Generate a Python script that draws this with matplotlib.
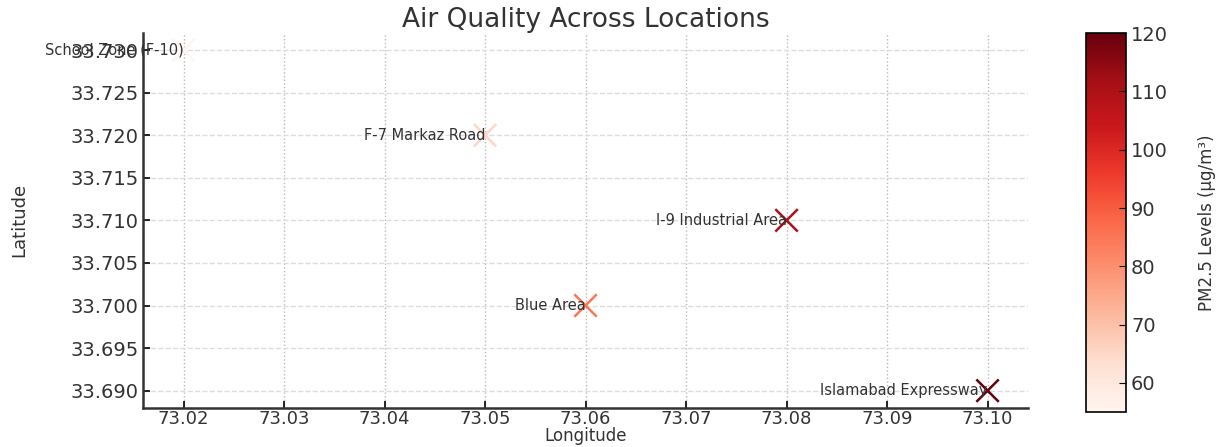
import numpy as np
import matplotlib
import matplotlib.pyplot as plt

# data
locations = ["School Zone (F-10)", "F-7 Markaz Road", "I-9 Industrial Area",
             "Blue Area", "Islamabad Expressway"]
longitude = [73.02, 73.05, 73.08, 73.06, 73.10]
latitude = [33.73, 33.72, 33.71, 33.70, 33.69]
pm25 = [55, 65, 110, 85, 120]

fig = plt.figure(figsize=(12.25, 4.47), dpi=100)
ax = fig.add_axes([0.117, 0.088, 0.722, 0.838])
cax = fig.add_axes([0.8865, 0.078, 0.0327, 0.848])

sc = ax.scatter(longitude, latitude, c=pm25, cmap="Reds", vmin=55, vmax=120,
                marker="x", s=260, linewidths=1.8, zorder=3)
for name, x, y in zip(locations, longitude, latitude):
    ax.text(x, y, name, fontsize=10.5, ha="right", va="center", color="#333333", zorder=4)

ax.set_title("Air Quality Across Locations", fontsize=19, color="#333333", pad=4)
ax.set_xlabel("Longitude", fontsize=12, color="#333333", labelpad=-1)
ax.set_ylabel("Latitude", fontsize=13, color="#333333", labelpad=30)
ax.set_xticks(np.arange(73.02, 73.1001, 0.01))
ax.set_yticks(np.arange(33.69, 33.7301, 0.005))
ax.xaxis.set_major_formatter(matplotlib.ticker.FormatStrFormatter("%.2f"))
ax.yaxis.set_major_formatter(matplotlib.ticker.FormatStrFormatter("%.3f"))
ax.tick_params(direction="in", labelsize=14, labelcolor="#333333", length=5, width=1.2)
ax.tick_params(axis="x", pad=2, labelsize=13)
ax.xaxis.grid(True, linestyle=":", color="#bbbbbb", linewidth=1)
ax.yaxis.grid(True, linestyle="--", color="#dddddd", linewidth=1)
ax.set_axisbelow(True)
for side in ["top", "right"]:
    ax.spines[side].set_visible(False)
for side in ["left", "bottom"]:
    ax.spines[side].set_linewidth(1.8)
    ax.spines[side].set_color("#333333")

cb = fig.colorbar(sc, cax=cax)
cb.set_label("PM2.5 Levels (µg/m³)", fontsize=12, color="#333333", labelpad=22)
cb.set_ticks([60, 70, 80, 90, 100, 110, 120])
cb.ax.tick_params(direction="in", labelsize=14, labelcolor="#333333", length=5)
cb.outline.set_linewidth(1.2)

fig.savefig("out.png", dpi=100)
